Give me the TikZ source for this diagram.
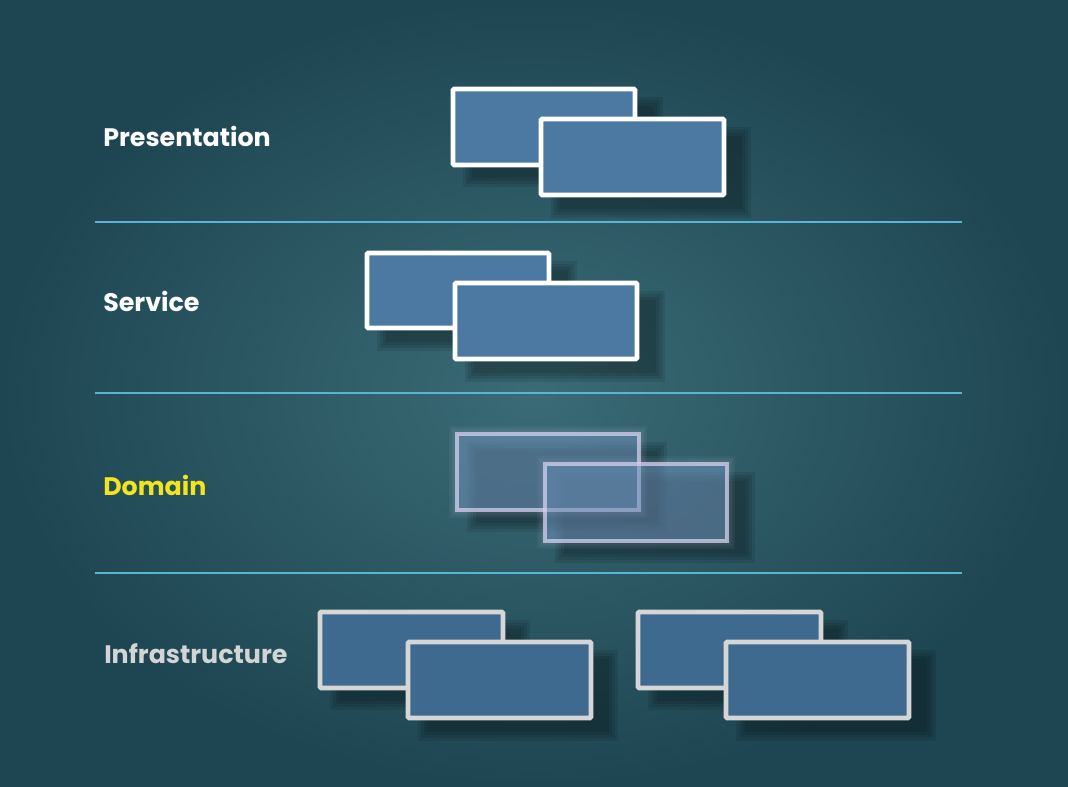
\documentclass[tikz,border=0pt]{standalone}
\usepackage{fontspec}
\setmainfont{Poppins}
\usetikzlibrary{shadings}
\definecolor{bgmid}{HTML}{3A6B76}
\definecolor{bgedge}{HTML}{1E4652}
\definecolor{sepline}{HTML}{5AB4D2}
\definecolor{boxfill}{HTML}{4C79A2}
\definecolor{infrafill}{HTML}{3F6A8F}
\definecolor{infraborder}{HTML}{D6D6D6}
\definecolor{domborder}{HTML}{D4D0EE}
\definecolor{domfill}{HTML}{5A86B0}
\definecolor{labyellow}{HTML}{F2E41E}
\definecolor{labgrey}{HTML}{D2D4D6}
\tikzset{
  layerlabel/.style={anchor=west, font=\bfseries\fontsize{19}{22}\selectfont, inner sep=0pt},
  sepstyle/.style={draw=sepline, line width=1.2pt},
  whitebox/.style={draw=white, line width=3.6pt, fill=boxfill, rounded corners=1pt},
  infrabox/.style={draw=infraborder, line width=3.6pt, fill=infrafill, rounded corners=1pt},
  dombox/.style={draw=domborder, draw opacity=0.75, line width=3.6pt, fill=domfill, fill opacity=0.45},
  shadowbox/.style={fill=black, fill opacity=0.09, draw=none},
  glowbox/.style={fill=domborder, fill opacity=0.05, draw=none},
}
\newcommand{\softshadow}[4]{% x1,y1,x2,y2
  \foreach \d in {0,3,6,9} {
    \fill[shadowbox] (#1+\d,#2+\d) rectangle (#3-\d,#4-\d);
  }
}
\newcommand{\pairshadow}[2]{%
  \softshadow{#1+12}{#2+10}{#1+212}{#2+100}
  \softshadow{#1+100}{#2+40}{#1+300}{#2+131}
}
\newcommand{\softglow}[4]{%
  \foreach \d in {0,2,4,6} {
    \fill[glowbox] (#1+\d,#2+\d) rectangle (#3-\d,#4-\d);
  }
}
\begin{document}
\begin{tikzpicture}[x=0.75pt,y=-0.75pt]
\useasboundingbox (0,0) rectangle (1068,786);
\shade[inner color=bgmid, outer color=bgedge] (0,0) rectangle (1068,786);
% separators
\coordinate (s1a) at (95,222); \coordinate (s1b) at (962,222);
\coordinate (s2a) at (95,393); \coordinate (s2b) at (962,393);
\coordinate (s3a) at (95,573); \coordinate (s3b) at (962,573);
\draw[sepstyle] (s1a) -- (s1b);
\draw[sepstyle] (s2a) -- (s2b);
\draw[sepstyle] (s3a) -- (s3b);
% labels
\node[layerlabel, text=white] (lpres) at (103,136) {Presentation};
\node[layerlabel, text=white] (lserv) at (103,301) {Service};
\node[layerlabel, text=labyellow] (ldom) at (103,485) {Domain};
\node[layerlabel, text=labgrey] (linfra) at (104,654) {Infrastructure};
% shadows
\pairshadow{451}{87}
\pairshadow{365}{251}
\pairshadow{455}{432}
\pairshadow{318}{610}
\pairshadow{636}{610}
% presentation
\draw[whitebox] (453,89) rectangle (635,165);
\draw[whitebox] (541,119) rectangle (724,195);
% service
\draw[whitebox] (367,253) rectangle (549,328);
\draw[whitebox] (455,283) rectangle (637,359);
% domain
\softglow{449}{426}{647}{518}
\softglow{537}{456}{735}{549}
\draw[dombox] (457,434) rectangle (639,510);
\draw[dombox] (545,464) rectangle (727,541);
% infrastructure
\draw[infrabox] (320,612) rectangle (503,688);
\draw[infrabox] (408,642) rectangle (591,718);
\draw[infrabox] (638,612) rectangle (821,688);
\draw[infrabox] (726,642) rectangle (909,718);
\end{tikzpicture}
\end{document}
